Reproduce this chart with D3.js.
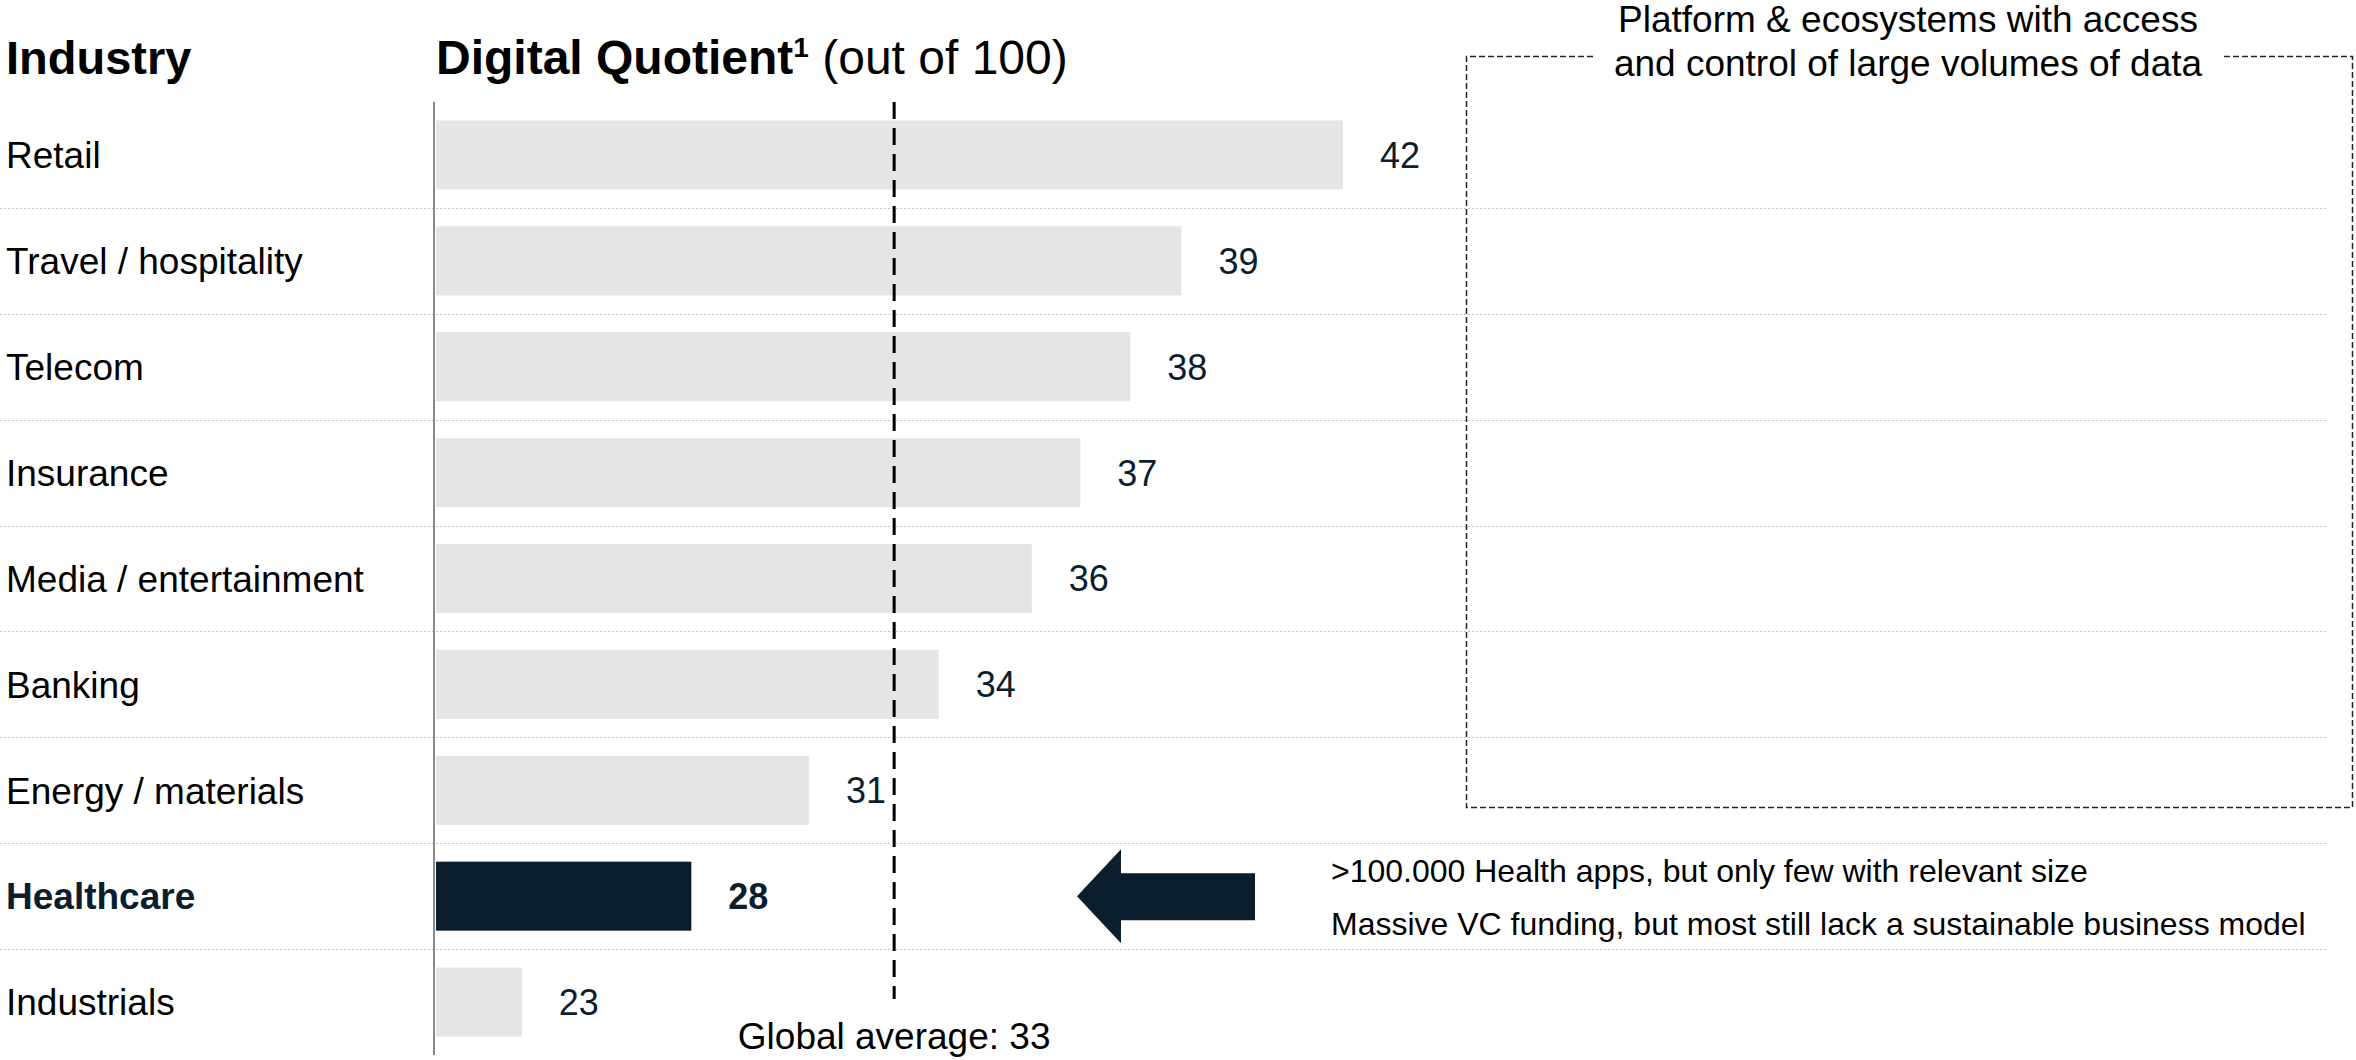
<!DOCTYPE html>
<html>
<head>
<meta charset="utf-8">
<script src="https://cdn.jsdelivr.net/npm/d3@7"></script>
<style>
  html, body { margin: 0; padding: 0; background: #fff; }
  svg { display: block; }
  text { font-family: "Liberation Sans", Arial, sans-serif; }
</style>
</head>
<body>
<svg id="chart" width="2356" height="1060"></svg>
<script>
// ---- data ----
const industries = ["Retail", "Travel / hospitality", "Telecom", "Insurance", "Media / entertainment",
                    "Banking", "Energy / materials", "Healthcare", "Industrials"];
const dqValues = [42, 39, 38, 37, 36, 34, 31, 28, 23];
const highlight = "Healthcare";
const globalAverage = 33;
const boxTitle = ["Platform & ecosystems with access", "and control of large volumes of data"];
const notes = [">100.000 Health apps, but only few with relevant size",
               "Massive VC funding, but most still lack a sustainable business model"];

// ---- layout ----
const navy = "#0a1e2e";
const svg = d3.select("#chart");

const x = d3.scalePow().exponent(2).domain([20, 42]).range([436, 1343]);
const y = d3.scaleBand().domain(industries).range([102, 1055]).paddingInner(0).paddingOuter(0);
const barH = 69;

// headers
svg.append("text").attr("x", 6).attr("y", 74)
  .attr("font-size", 47).attr("font-weight", "bold").attr("fill", "#000").text("Industry");
const hdr = svg.append("text").attr("x", 436).attr("y", 74).attr("font-size", 48).attr("fill", "#000");
hdr.append("tspan").attr("font-weight", "bold").text("Digital Quotient");
hdr.append("tspan").attr("font-weight", "bold").attr("font-size", 28).attr("dy", -17).text("1");
hdr.append("tspan").attr("dy", 17).text(" (out of 100)");

// row separators
const seps = industries.slice(1);
svg.append("g").selectAll("line").data(seps).join("line")
  .attr("x1", 0).attr("x2", 2326)
  .attr("y1", d => Math.round(y(d)) + 0.5).attr("y2", d => Math.round(y(d)) + 0.5)
  .attr("stroke", "#c4c4c4").attr("stroke-width", 1).attr("stroke-dasharray", "2,2");

// bars
svg.append("g").selectAll("rect").data(industries).join("rect")
  .attr("x", x.range()[0])
  .attr("y", d => y(d) + y.bandwidth() / 2 - barH / 2)
  .attr("width", (d, i) => x(dqValues[i]) - x.range()[0])
  .attr("height", barH)
  .attr("fill", d => d === highlight ? navy : "#e5e5e5");

// axis line
svg.append("line").attr("x1", 434).attr("x2", 434).attr("y1", 102).attr("y2", 1055)
  .attr("stroke", "#8a8a8a").attr("stroke-width", 2);

// category labels
svg.append("g").selectAll("text").data(industries).join("text")
  .attr("x", 6)
  .attr("y", d => y(d) + y.bandwidth() / 2)
  .attr("dy", "0.36em")
  .attr("font-size", 37)
  .attr("font-weight", d => d === highlight ? "bold" : "normal")
  .attr("fill", d => d === highlight ? navy : "#000")
  .text(d => d);

// value labels
svg.append("g").selectAll("text").data(industries).join("text")
  .attr("x", (d, i) => x(dqValues[i]) + 57)
  .attr("y", d => y(d) + y.bandwidth() / 2)
  .attr("dy", "0.36em")
  .attr("text-anchor", "middle")
  .attr("font-size", 36)
  .attr("font-weight", d => d === highlight ? "bold" : "normal")
  .attr("fill", navy)
  .text((d, i) => dqValues[i]);

// global average line
const ax = x(globalAverage);
svg.append("line").attr("x1", ax).attr("x2", ax).attr("y1", 102).attr("y2", 999)
  .attr("stroke", "#000").attr("stroke-width", 3).attr("stroke-dasharray", "17,9");
svg.append("text").attr("x", ax).attr("y", 1049).attr("text-anchor", "middle")
  .attr("font-size", 37).attr("fill", "#000").text("Global average: " + globalAverage);

// dashed box
const bx0 = 1466.5, bx1 = 2352.5, by0 = 56.5, by1 = 807.5;
const box = svg.append("g").attr("fill", "none").attr("stroke", "#222").attr("stroke-width", 1.5)
  .attr("stroke-dasharray", "6,3");
box.append("path").attr("d", `M1593,${by0} H${bx0} V${by1} H${bx1} V${by0} H2224`);
svg.append("g").selectAll("text").data(boxTitle).join("text")
  .attr("x", 1908).attr("y", (d, i) => 32 + i * 44)
  .attr("text-anchor", "middle").attr("font-size", 37).attr("fill", "#000").text(d => d);

// arrow pointing at Healthcare
const cy = y(highlight) + y.bandwidth() / 2;
svg.append("path")
  .attr("d", `M1077,${cy} L1121,${cy - 47} L1121,${cy - 23} L1255,${cy - 23} L1255,${cy + 24} L1121,${cy + 24} L1121,${cy + 47} Z`)
  .attr("fill", navy);

// notes
svg.append("g").selectAll("text").data(notes).join("text")
  .attr("x", 1331).attr("y", (d, i) => cy - 14 + i * 53)
  .attr("font-size", 32).attr("fill", "#000").text(d => d);
</script>
</body>
</html>
